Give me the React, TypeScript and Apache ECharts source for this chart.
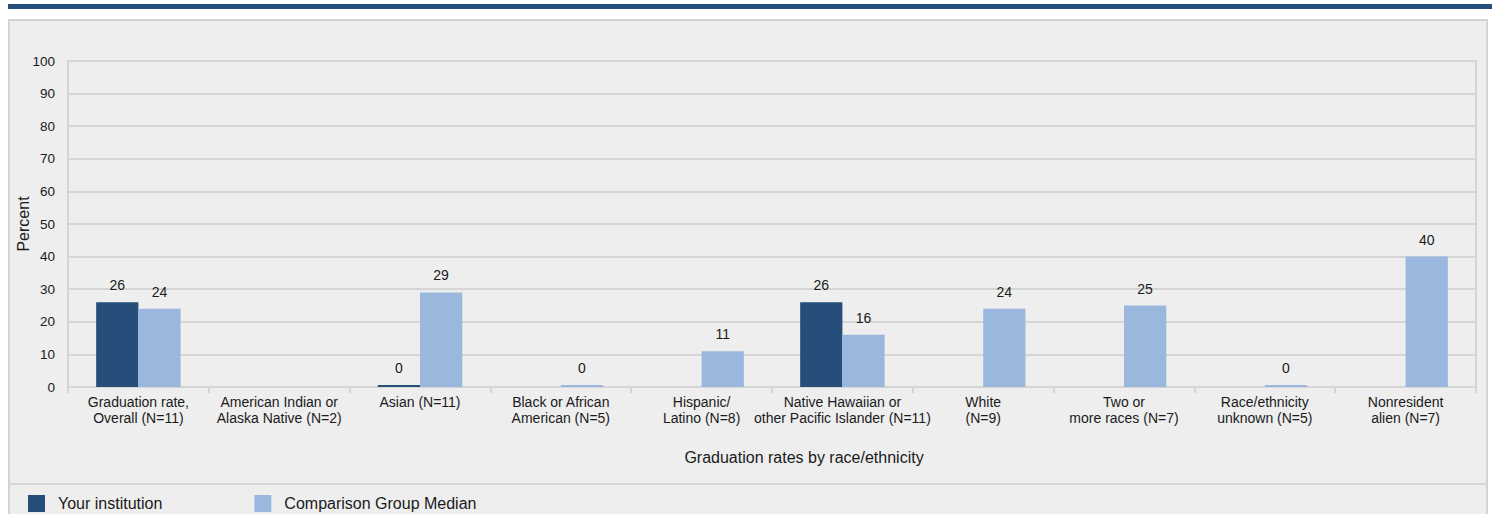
import React, { useEffect, useRef } from "react";
import * as echarts from "echarts";

const categories = [
  "Graduation rate,\nOverall (N=11)",
  "American Indian or\nAlaska Native (N=2)",
  "Asian (N=11)",
  "Black or African\nAmerican (N=5)",
  "Hispanic/\nLatino (N=8)",
  "Native Hawaiian or\nother Pacific Islander (N=11)",
  "White\n(N=9)",
  "Two or\nmore races (N=7)",
  "Race/ethnicity\nunknown (N=5)",
  "Nonresident\nalien (N=7)",
];
const yourInstitution: (number | null)[] = [26, null, 0, null, null, 26, null, null, null, null];
const comparisonMedian: (number | null)[] = [24, null, 29, 0, 11, 16, 24, 25, 0, 40];
const seriesNames = ["Your institution", "Comparison Group Median"];
const xAxisTitle = "Graduation rates by race/ethnicity";
const yAxisTitle = "Percent";

const DARK = "#254f7a";
const LIGHT = "#9ab8dd";
const GRID = "#d5d5d5";
const TEXT = "#1a1a1a";
const FONT = "'Liberation Sans', Arial, sans-serif";

export default function App() {
  const ref = useRef<HTMLDivElement>(null);
  useEffect(() => {
    if (!ref.current) return;
    const chart = echarts.init(ref.current, undefined, { renderer: "svg" });
    const toData = (arr: (number | null)[]) => arr.map((v) => (v === null ? "-" : v));
    const label = { show: true, position: "top", fontSize: 14, color: TEXT, distance: 10, fontFamily: FONT };
    chart.setOption({
      animation: false,
      textStyle: { fontFamily: FONT },
      graphic: [
        { type: "rect", z: -10, shape: { x: 8, y: 4, width: 1484, height: 5 }, style: { fill: DARK } },
        {
          type: "rect",
          z: -10,
          shape: { x: 9, y: 20, width: 1478, height: 520 },
          style: { fill: "#eeeeee", stroke: "#d3d3d3", lineWidth: 2 },
        },
        {
          type: "line",
          z: -9,
          shape: { x1: 9, y1: 484, x2: 1487, y2: 484 },
          style: { stroke: "#d6d6d6", lineWidth: 2 },
        },
      ],
      legend: {
        data: seriesNames,
        left: 28,
        top: 495,
        padding: 0,
        icon: "rect",
        itemWidth: 17,
        itemHeight: 17,
        itemGap: 92,
        textStyle: { fontSize: 16, color: TEXT, fontFamily: FONT, padding: [0, 0, 0, 8] },
      },
      grid: {
        left: 68,
        top: 61,
        right: 16,
        bottom: 127,
        show: true,
        borderColor: GRID,
        borderWidth: 2,
        backgroundColor: "transparent",
      },
      xAxis: {
        type: "category",
        data: categories,
        name: xAxisTitle,
        nameLocation: "middle",
        nameGap: 62,
        nameMoveOverlap: false,
        nameTextStyle: { fontSize: 16, color: TEXT, fontFamily: FONT, padding: [0, 0, 0, 64] },
        axisLine: { show: true, lineStyle: { color: GRID, width: 2 } },
        axisTick: { show: true, length: 6, lineStyle: { color: GRID, width: 2 }, interval: 0 },
        axisLabel: { interval: 0, fontSize: 14, color: TEXT, lineHeight: 16, margin: 7, fontFamily: FONT },
      },
      yAxis: {
        type: "value",
        min: 0,
        max: 100,
        interval: 10,
        name: yAxisTitle,
        nameLocation: "middle",
        nameGap: 37,
        nameMoveOverlap: false,
        nameTextStyle: { fontSize: 16, color: TEXT, fontFamily: FONT },
        axisLine: { show: true, lineStyle: { color: GRID, width: 2 } },
        axisTick: { show: false },
        splitLine: { show: true, lineStyle: { color: GRID, width: 2 } },
        axisLabel: { fontSize: 13.5, color: TEXT, margin: 13, fontFamily: FONT },
      },
      series: [
        {
          name: seriesNames[0],
          type: "bar",
          data: toData(yourInstitution),
          itemStyle: { color: DARK },
          barWidth: "30%",
          barGap: "0%",
          barMinHeight: 2,
          label,
        },
        {
          name: seriesNames[1],
          type: "bar",
          data: toData(comparisonMedian),
          itemStyle: { color: LIGHT },
          barWidth: "30%",
          barGap: "0%",
          barMinHeight: 2,
          label,
        },
      ],
    });
    return () => chart.dispose();
  }, []);
  return (
    <div
      ref={ref}
      style={{ position: "fixed", left: 0, top: 0, width: 1492, height: 514, background: "#ffffff" }}
    />
  );
}
